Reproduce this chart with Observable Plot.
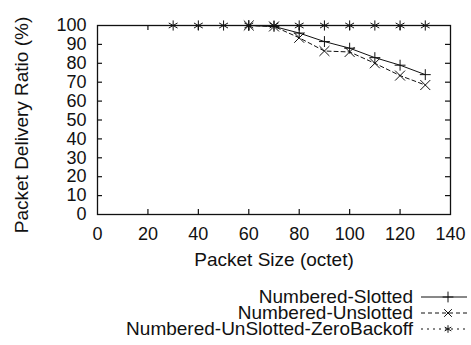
<!DOCTYPE html>
<html>
<head>
<meta charset="utf-8">
<script src="https://cdn.jsdelivr.net/npm/d3@7"></script>
<script src="https://cdn.jsdelivr.net/npm/@observablehq/plot@0.6"></script>
<style>
  body { margin: 0; background: #fff; font-family: "Liberation Sans", Arial, sans-serif; }
  #legend { width: 471px; padding-top: 9px; font-size: 19px; color: #111; }
  .row { display: flex; justify-content: flex-end; align-items: center; height: 16px; line-height: 16px; }
  .row span { margin-right: 7px; }
  .row svg { margin-right: 3px; }
</style>
</head>
<body>
<div id="chart"></div>
<div id="legend"></div>
<script>
const sizes = [30, 40, 50, 60, 70, 80, 90, 100, 110, 120, 130];
const slotted = [null, null, null, 100, 99.5, 96, 91.5, 88, 83, 79, 74];
const unslotted = [null, null, null, 100, 99.5, 93.5, 86.5, 86, 80, 73.5, 68.5];
const zeroBackoff = [100, 100, 100, 100, 100, 100, 100, 100, 100, 100, 100];
const seriesNames = ["Numbered-Slotted", "Numbered-Unslotted", "Numbered-UnSlotted-ZeroBackoff"];
const xTicks = [0, 20, 40, 60, 80, 100, 120, 140];
const yTicks = [0, 10, 20, 30, 40, 50, 60, 70, 80, 90, 100];
const xTitle = "Packet Size (octet)";
const yTitle = "Packet Delivery Ratio (%)";

const styles = [
  {symbol: "plus", dash: null, r: 3.6},
  {symbol: "times", dash: "4,3", r: 4.6},
  {symbol: "asterisk", dash: "2,4", r: 4.8}
];
const seriesValues = [slotted, unslotted, zeroBackoff];
const data = [];
seriesNames.forEach((name, i) => sizes.forEach((s, j) => {
  if (seriesValues[i][j] != null) data.push({series: name, idx: i, x: s, y: seriesValues[i][j]});
}));

const W = 471, H = 280, mt = 25, mb = 66, ml = 97, mr = 21;
const fw = W - ml - mr, fh = H - mt - mb, tk = 5;

const marks = [
  Plot.frame({stroke: "#111", strokeWidth: 1.3}),
  Plot.tickX(xTicks.slice(1, -1), {x: d => d, insetTop: fh - tk, stroke: "#111", strokeWidth: 1.2}),
  Plot.tickX(xTicks.slice(1, -1), {x: d => d, insetBottom: fh - tk, stroke: "#111", strokeWidth: 1.2}),
  Plot.tickY(yTicks.slice(1, -1), {y: d => d, insetRight: fw - tk, stroke: "#111", strokeWidth: 1.2}),
  Plot.tickY(yTicks.slice(1, -1), {y: d => d, insetLeft: fw - tk, stroke: "#111", strokeWidth: 1.2}),
  Plot.axisX({ticks: xTicks, tickSize: 0, tickPadding: 13, label: null, fontSize: 18}),
  Plot.axisY({ticks: yTicks, tickSize: 0, tickPadding: 11, label: null, fontSize: 18}),
  Plot.text([xTitle], {text: d => d, frameAnchor: "bottom", dy: 51, textAnchor: "middle", fontSize: 19, fill: "#111"}),
  Plot.text([yTitle], {text: d => d, frameAnchor: "left", dx: -76, dy: 5, rotate: -90, textAnchor: "middle", fontSize: 19, fill: "#111"})
];
styles.forEach((st, i) => {
  const d = data.filter(r => r.idx === i);
  marks.push(Plot.line(d, {x: "x", y: "y", stroke: "#111", strokeWidth: 1, strokeDasharray: st.dash}));
  marks.push(Plot.dot(d, {x: "x", y: "y", symbol: () => st.symbol, r: st.r, stroke: "#111", strokeWidth: 1}));
});

const chart = Plot.plot({
  width: W, height: H,
  marginTop: mt, marginBottom: mb, marginLeft: ml, marginRight: mr,
  x: {domain: [0, 140]},
  y: {domain: [0, 100]},
  symbol: {type: "identity"},
  style: {fontSize: "18px", fontFamily: "Liberation Sans, Arial, sans-serif", color: "#111", background: "#fff"},
  marks
});
document.getElementById("chart").appendChild(chart);

const legend = document.getElementById("legend");
const symbolPaths = {plus: d3.symbolPlus, times: d3.symbolTimes, asterisk: d3.symbolAsterisk};
seriesNames.forEach((name, i) => {
  const row = document.createElement("div");
  row.className = "row";
  const span = document.createElement("span");
  span.textContent = name;
  row.appendChild(span);
  const s = d3.create("svg").attr("width", 48).attr("height", 16);
  s.append("line").attr("x1", 1).attr("x2", 47).attr("y1", 8).attr("y2", 8)
    .attr("stroke", "#111").attr("stroke-width", 1).attr("stroke-dasharray", styles[i].dash);
  s.append("path").attr("transform", "translate(28,8)")
    .attr("d", d3.symbol(symbolPaths[styles[i].symbol], 40)())
    .attr("fill", "none").attr("stroke", "#111").attr("stroke-width", 1);
  row.appendChild(s.node());
  legend.appendChild(row);
});
</script>
</body>
</html>
